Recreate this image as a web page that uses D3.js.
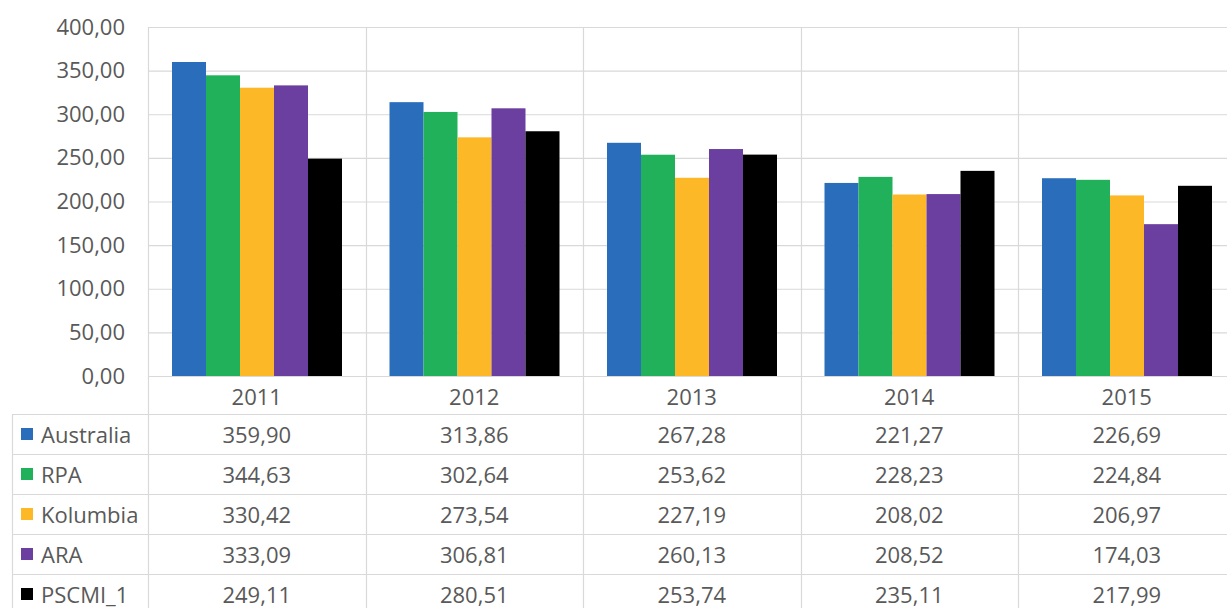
<!DOCTYPE html>
<html>
<head>
<meta charset="utf-8">
<script src="https://cdn.jsdelivr.net/npm/d3@7"></script>
<style>
  html, body { margin: 0; padding: 0; background: #fff; }
  svg { display: block; }
  text { font-family: "Open Sans", "Noto Sans", sans-serif; fill: #595959; }
</style>
</head>
<body>
<svg id="chart" width="1227" height="608"></svg>
<script>
// Categories, series and values
const years = ["2011", "2012", "2013", "2014", "2015"];
const seriesNames = ["Australia", "RPA", "Kolumbia", "ARA", "PSCMI_1"];
const seriesColors = ["#2a6ebb", "#20b15a", "#fdb827", "#6b3fa0", "#000000"];
const australia = [359.90, 313.86, 267.28, 221.27, 226.69];
const rpa       = [344.63, 302.64, 253.62, 228.23, 224.84];
const kolumbia  = [330.42, 273.54, 227.19, 208.02, 206.97];
const ara       = [333.09, 306.81, 260.13, 208.52, 174.03];
const pscmi     = [249.11, 280.51, 253.74, 235.11, 217.99];
const yTicks = [0, 50, 100, 150, 200, 250, 300, 350, 400];

const values = [australia, rpa, kolumbia, ara, pscmi];

const W = 1227, H = 608;
const svg = d3.select("#chart");

const plotLeft = 148, plotRight = 1235.5, plotTop = 27, plotBase = 376;
const tableLeft = 12, headerBottom = 414, rowH = 40;
const fontSize = 22;

const fmt = v => d3.format(".2f")(v).replace(".", ",");

const x0 = d3.scaleBand().domain(years).range([plotLeft, plotRight]).padding(0);
const x1 = d3.scaleBand().domain(seriesNames)
  .range([24, x0.bandwidth() - 23.5]).padding(0);
const y = d3.scaleLinear().domain([0, 400]).range([plotBase, plotTop]);

const grid = "#d9d9d9";

// Horizontal grid lines
svg.append("g").selectAll("line").data(yTicks).join("line")
  .attr("x1", plotLeft).attr("x2", W)
  .attr("y1", d => y(d) + 0.5).attr("y2", d => y(d) + 0.5)
  .attr("stroke", grid).attr("stroke-width", 1.2);

// Vertical category separators running through the plot and table
const seps = years.map(d => x0(d));
svg.append("g").selectAll("line").data(seps).join("line")
  .attr("x1", d => Math.round(d) + 0.5).attr("x2", d => Math.round(d) + 0.5)
  .attr("y1", plotTop).attr("y2", H)
  .attr("stroke", grid).attr("stroke-width", 1.2);

// Table horizontal lines
const rowLines = d3.range(seriesNames.length + 1).map(i => headerBottom + i * rowH);
svg.append("g").selectAll("line").data(rowLines).join("line")
  .attr("x1", tableLeft).attr("x2", W)
  .attr("y1", d => d + 0.5).attr("y2", d => d + 0.5)
  .attr("stroke", grid).attr("stroke-width", 1.2);

// Table left border
svg.append("line")
  .attr("x1", tableLeft + 0.5).attr("x2", tableLeft + 0.5)
  .attr("y1", headerBottom).attr("y2", H)
  .attr("stroke", grid).attr("stroke-width", 1.2);

// Bars
const groups = svg.append("g").selectAll("g").data(years).join("g")
  .attr("transform", d => `translate(${x0(d)},0)`);
groups.selectAll("rect")
  .data((d, i) => seriesNames.map((s, j) => ({ s, j, v: values[j][i] })))
  .join("rect")
  .attr("x", d => x1(d.s))
  .attr("width", x1.bandwidth())
  .attr("y", d => y(d.v))
  .attr("height", d => plotBase - y(d.v))
  .attr("fill", d => seriesColors[d.j]);

// Y axis labels
const yAxis = d3.axisLeft(y).tickValues(yTicks).tickFormat(fmt).tickSize(0).tickPadding(0);
const ya = svg.append("g").attr("transform", `translate(125,0)`).call(yAxis);
ya.select(".domain").remove();
ya.selectAll("text").attr("font-size", fontSize).attr("fill", "#595959")
  .attr("font-family", "'Open Sans', 'Noto Sans', sans-serif");

// Year header labels
svg.append("g").selectAll("text").data(years).join("text")
  .attr("x", d => x0(d) + x0.bandwidth() / 2)
  .attr("y", (plotBase + headerBottom) / 2 + 1)
  .attr("text-anchor", "middle").attr("dominant-baseline", "central")
  .attr("font-size", fontSize).text(d => d);

// Legend column of the data table
const rows = svg.append("g").selectAll("g").data(seriesNames).join("g")
  .attr("transform", (d, i) => `translate(0,${headerBottom + i * rowH + rowH / 2})`);
rows.append("rect")
  .attr("x", 21).attr("y", -6).attr("width", 12).attr("height", 12)
  .attr("fill", (d, i) => seriesColors[i]);
rows.append("text")
  .attr("x", 41).attr("y", -0.5).attr("dominant-baseline", "central")
  .attr("font-size", fontSize).text(d => d);

// Table values
rows.each(function (s, j) {
  d3.select(this).selectAll("text.val").data(values[j]).join("text")
    .attr("class", "val")
    .attr("x", (v, i) => x0(years[i]) + x0.bandwidth() / 2)
    .attr("y", -0.5).attr("dominant-baseline", "central")
    .attr("text-anchor", "middle").attr("font-size", fontSize)
    .text(v => fmt(v));
});
</script>
</body>
</html>
